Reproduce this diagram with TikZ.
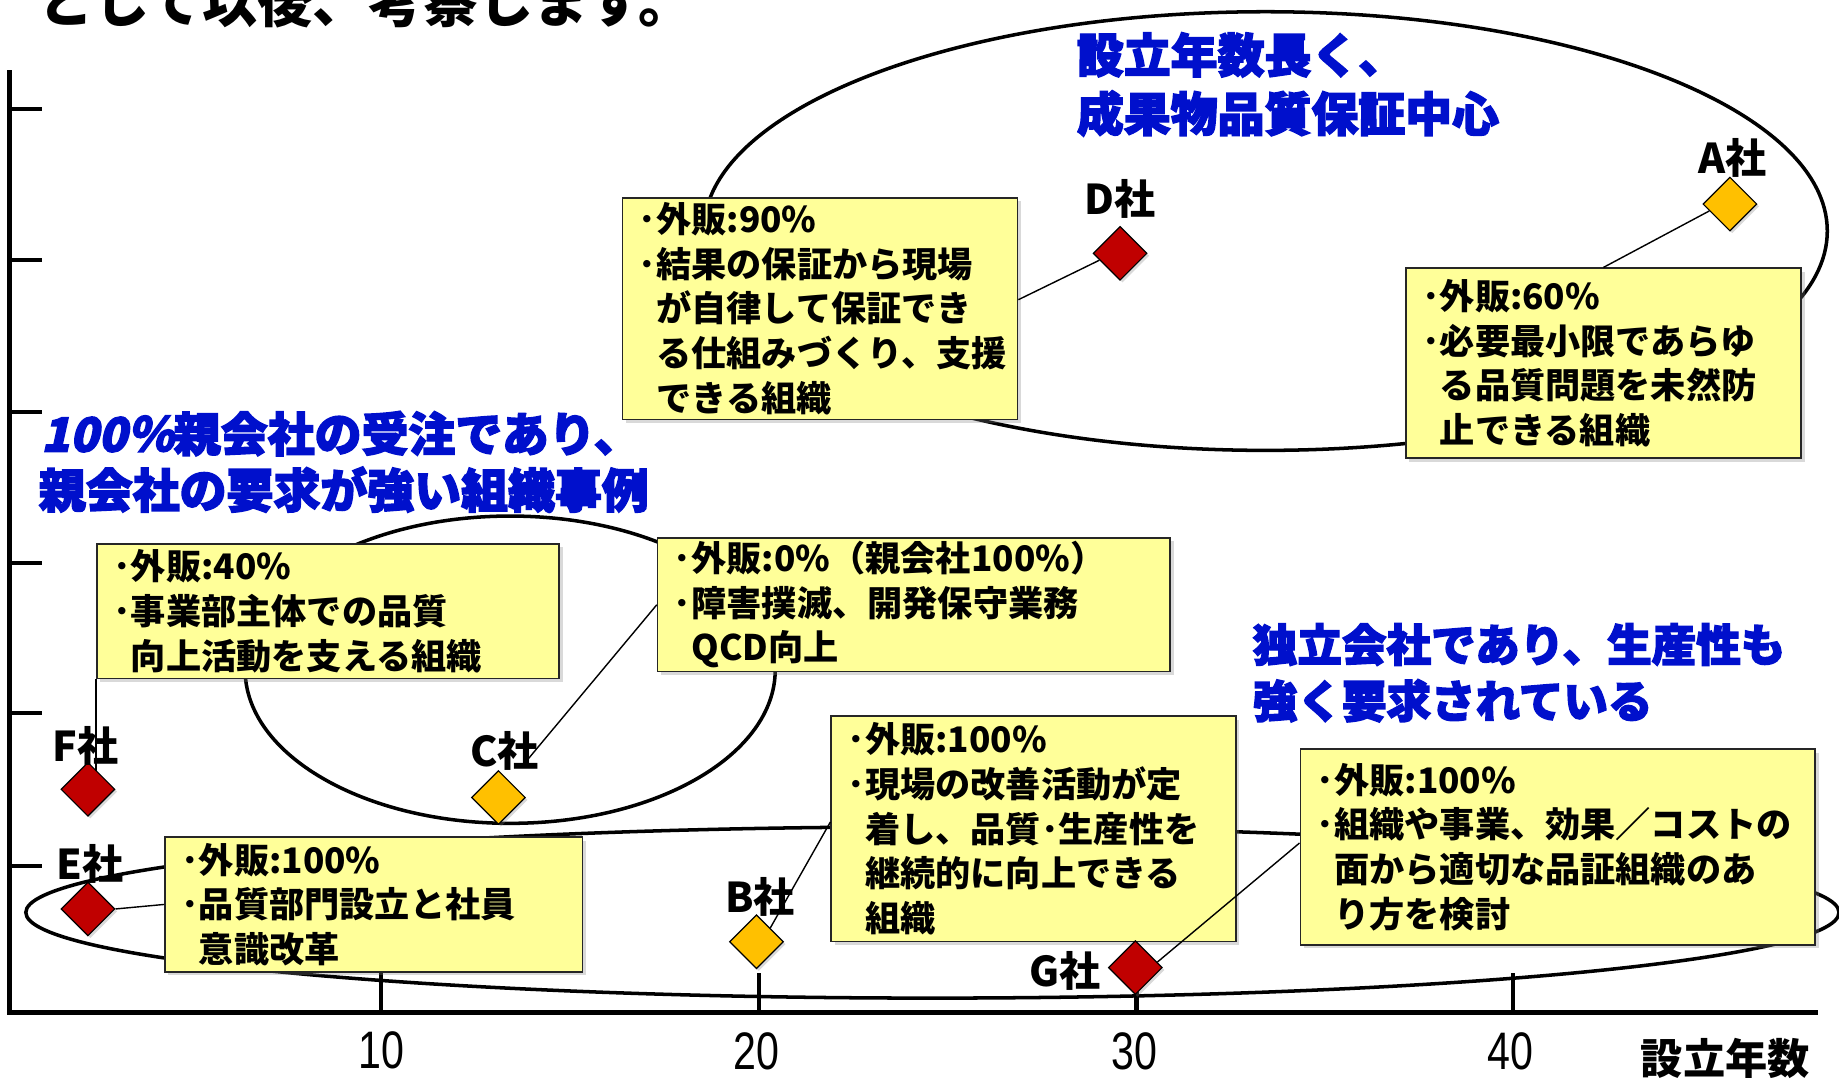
\documentclass[tikz,border=0pt]{standalone}
\usepackage{fontspec}
\newfontfamily\jp{Noto Sans CJK JP}
\newfontfamily\jpheavy{Noto Sans CJK JP}[FakeBold=3]
\newfontfamily\jpheavyit{Noto Sans CJK JP}[FakeBold=3,FakeSlant=0.22]
\newfontfamily\numfont{Liberation Sans}[FakeStretch=0.78]
\usetikzlibrary{shapes.geometric,shadows,calc}
\definecolor{dred}{RGB}{192,0,0}
\definecolor{gold}{RGB}{255,192,0}
\definecolor{boxyellow}{RGB}{255,255,153}
\definecolor{hblue}{RGB}{0,16,204}
\begin{document}
\begin{tikzpicture}[x=1pt,y=-1pt,
  infobox/.style={draw=black!85, line width=1.3pt, fill=boxyellow, align=left, anchor=north west,
    inner xsep=14pt, inner ysep=0pt, font=\jp\bfseries\fontsize{30}{38}\selectfont,
    drop shadow={shadow xshift=3pt,shadow yshift=-3pt,opacity=0.3}},
  company/.style={diamond, draw=black, line width=1pt, minimum width=46pt, minimum height=46pt,
    inner sep=0pt, drop shadow={shadow xshift=2pt,shadow yshift=-2pt,opacity=0.3}},
  redco/.style={company, fill=dred},
  goldco/.style={company, fill=gold},
  colabel/.style={font=\jp\bfseries\fontsize{35}{35}\selectfont, inner sep=0pt},
  heading/.style={font=\jpheavy\bfseries\fontsize{40}{40}\selectfont, text=hblue, inner sep=0pt, anchor=base west},
  heading3/.style={heading, font=\jpheavy\bfseries\fontsize{38}{38}\selectfont},
  grp/.style={line width=3pt, black},
  conn/.style={line width=1.2pt, black},
  axisline/.style={line width=4.5pt, black},
  axtick/.style={line width=3.5pt, black},
  ticklabel/.style={font=\numfont\fontsize{45}{45}\selectfont, inner sep=0pt, anchor=base},
]
\useasboundingbox (0,0) rectangle (1568,921);

% intro text (cut off at top)
\node[font=\jp\bfseries\fontsize{47}{47}\selectfont, anchor=base west, inner sep=0pt] (intro) at (33,19) {として以後、考察します。};

% group ellipses
\draw[grp] (1079,197) ellipse [x radius=479pt, y radius=187pt];
\draw[grp] (435,571) ellipse [x radius=226pt, y radius=131pt];
\draw[grp] (795,778) ellipse [x radius=773pt, y radius=73pt];

% axes
\draw[axisline] (8,60) -- (8,865);
\draw[axisline] (6,863) -- (1550,863);
\foreach \yy in {93,222,351,480,608,738} \draw[axtick] (8,\yy) -- (36,\yy);
\foreach \xx in {325,647,969,1290} \draw[axtick] (\xx,830) -- (\xx,863);

\node[ticklabel] (n10) at (325,911) {10};
\node[ticklabel] (n20) at (645,912) {20};
\node[ticklabel] (n30) at (967,912) {30};
\node[ticklabel] (n40) at (1288,912) {40};
\node[font=\jp\bfseries\fontsize{36}{36}\selectfont, anchor=base, inner sep=0pt] (xlab) at (1471,916) {設立年数};

% headings
\node[heading] (h1a) at (918,62) {設立年数長く、};
\node[heading] (h1b) at (918,112) {成果物品質保証中心};
\node[heading] (h2a) at (35,385) {{\jpheavyit\bfseries 100％}親会社の受注であり、};
\node[heading] (h2b) at (33,433) {親会社の要求が強い組織事例};
\node[heading3] (h3a) at (1068,564) {独立会社であり、生産性も};
\node[heading3] (h3b) at (1068,612) {強く要求されている};

% info boxes
\node[infobox, text width=309pt, minimum height=189pt] (Dbox) at (530,168)
  {･外販:90\%\\･結果の保証から現場\\\hspace*{0.5em}が自律して保証でき\\\hspace*{0.5em}る仕組みづくり、支援\\\hspace*{0.5em}できる組織};
\node[infobox, text width=309pt, minimum height=162pt] (Abox) at (1198,228)
  {･外販:60\%\\･必要最小限であらゆ\\\hspace*{0.5em}る品質問題を未然防\\\hspace*{0.5em}止できる組織};
\node[infobox, text width=366pt, minimum height=115pt] (Fbox) at (82,463)
  {･外販:40\%\\･事業部主体での品質\\\hspace*{0.5em}向上活動を支える組織};
\node[infobox, text width=409pt, minimum height=114pt] (Cbox) at (560,458)
  {･外販:0\%（親会社100\%）\\･障害撲滅、開発保守業務\\\hspace*{0.5em}QCD向上};
\node[infobox, text width=328pt, minimum height=115pt] (Ebox) at (140,713)
  {･外販:100\%\\･品質部門設立と社員\\\hspace*{0.5em}意識改革};
\node[infobox, text width=317pt, minimum height=192pt] (Bbox) at (708,610)
  {･外販:100\%\\･現場の改善活動が定\\\hspace*{0.5em}着し、品質･生産性を\\\hspace*{0.5em}継続的に向上できる\\\hspace*{0.5em}組織};
\node[infobox, text width=411pt, minimum height=167pt] (Gbox) at (1108,638)
  {･外販:100\%\\･組織や事業、効果／コストの\\\hspace*{0.5em}面から適切な品証組織のあ\\\hspace*{0.5em}り方を検討};

% companies
\node[goldco] (A) at (1475,174) {};
\node[redco] (D) at (955,216) {};
\node[redco] (F) at (75,673) {};
\node[goldco] (C) at (425,680) {};
\node[redco] (E) at (75,775) {};
\node[goldco] (B) at (645,803) {};
\node[redco] (G) at (968,825) {};

\node[colabel] (Alab) at (1477,135) {A社};
\node[colabel] (Dlab) at (955,170) {D社};
\node[colabel] (Flab) at (73,636) {F社};
\node[colabel] (Clab) at (430,640) {C社};
\node[colabel] (Elab) at (77,737) {E社};
\node[colabel] (Blab) at (648,765) {B社};
\node[colabel] (Glab) at (908,828) {G社};

% connectors
\draw[conn] ($(Dbox.north east)!0.46!(Dbox.south east)$) -- ($(D.west)!0.25!(D.south)$);
\draw[conn] (Abox.north) -- ($(A.west)!0.25!(A.south)$);
\draw[conn] (Fbox.south west) -- ($(Fbox.south west |- F.north)+(0,8)$);
\draw[conn] (Cbox.west) -- ($(C.north)+(20,-3)$);
\draw[conn] (E.east) -- (Ebox.west);
\draw[conn] (B.north east) -- ($(Bbox.north west)!0.47!(Bbox.south west)$);
\draw[conn] ($(G.east)!0.2!(G.north)$) -- ($(Gbox.north west)!0.48!(Gbox.south west)$);
\end{tikzpicture}
\end{document}
